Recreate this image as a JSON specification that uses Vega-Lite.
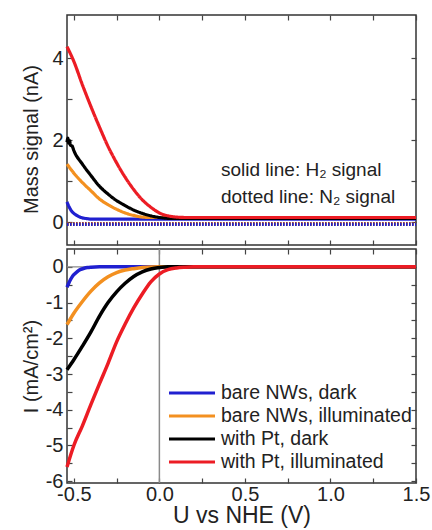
{
  "$schema": "https://vega.github.io/schema/vega-lite/v6.json",
  "padding": {"left": 20, "top": 13, "right": 5, "bottom": 5},
  "spacing": 0,
  "datasets": {
    "mass": [
      {"s":"bare NWs, dark","g":"H2","U":-0.54,"M":0.5},{"s":"bare NWs, dark","g":"H2","U":-0.53,"M":0.4},{"s":"bare NWs, dark","g":"H2","U":-0.52,"M":0.32},{"s":"bare NWs, dark","g":"H2","U":-0.51,"M":0.26},{"s":"bare NWs, dark","g":"H2","U":-0.5,"M":0.22},{"s":"bare NWs, dark","g":"H2","U":-0.49,"M":0.19},{"s":"bare NWs, dark","g":"H2","U":-0.47,"M":0.14},{"s":"bare NWs, dark","g":"H2","U":-0.45,"M":0.11},{"s":"bare NWs, dark","g":"H2","U":-0.42,"M":0.09},{"s":"bare NWs, dark","g":"H2","U":-0.4,"M":0.08},{"s":"bare NWs, dark","g":"H2","U":0,"M":0.08},{"s":"bare NWs, dark","g":"H2","U":0.5,"M":0.08},{"s":"bare NWs, dark","g":"H2","U":1.0,"M":0.08},{"s":"bare NWs, dark","g":"H2","U":1.5,"M":0.08},
      {"s":"bare NWs, illuminated","g":"H2","U":-0.54,"M":1.42},{"s":"bare NWs, illuminated","g":"H2","U":-0.5,"M":1.2},{"s":"bare NWs, illuminated","g":"H2","U":-0.45,"M":0.97},{"s":"bare NWs, illuminated","g":"H2","U":-0.4,"M":0.77},{"s":"bare NWs, illuminated","g":"H2","U":-0.35,"M":0.57},{"s":"bare NWs, illuminated","g":"H2","U":-0.3,"M":0.43},{"s":"bare NWs, illuminated","g":"H2","U":-0.25,"M":0.32},{"s":"bare NWs, illuminated","g":"H2","U":-0.2,"M":0.23},{"s":"bare NWs, illuminated","g":"H2","U":-0.15,"M":0.17},{"s":"bare NWs, illuminated","g":"H2","U":-0.1,"M":0.13},{"s":"bare NWs, illuminated","g":"H2","U":-0.05,"M":0.12},{"s":"bare NWs, illuminated","g":"H2","U":0,"M":0.12},{"s":"bare NWs, illuminated","g":"H2","U":0.5,"M":0.12},{"s":"bare NWs, illuminated","g":"H2","U":1.0,"M":0.12},{"s":"bare NWs, illuminated","g":"H2","U":1.5,"M":0.12},
      {"s":"with Pt, dark","g":"H2","U":-0.54,"M":1.95},{"s":"with Pt, dark","g":"H2","U":-0.535,"M":2.05},{"s":"with Pt, dark","g":"H2","U":-0.53,"M":1.93},{"s":"with Pt, dark","g":"H2","U":-0.525,"M":1.99},{"s":"with Pt, dark","g":"H2","U":-0.52,"M":1.88},{"s":"with Pt, dark","g":"H2","U":-0.51,"M":1.86},{"s":"with Pt, dark","g":"H2","U":-0.5,"M":1.75},{"s":"with Pt, dark","g":"H2","U":-0.45,"M":1.42},{"s":"with Pt, dark","g":"H2","U":-0.4,"M":1.14},{"s":"with Pt, dark","g":"H2","U":-0.35,"M":0.88},{"s":"with Pt, dark","g":"H2","U":-0.3,"M":0.69},{"s":"with Pt, dark","g":"H2","U":-0.25,"M":0.53},{"s":"with Pt, dark","g":"H2","U":-0.2,"M":0.41},{"s":"with Pt, dark","g":"H2","U":-0.15,"M":0.3},{"s":"with Pt, dark","g":"H2","U":-0.1,"M":0.22},{"s":"with Pt, dark","g":"H2","U":-0.05,"M":0.16},{"s":"with Pt, dark","g":"H2","U":0,"M":0.12},{"s":"with Pt, dark","g":"H2","U":0.05,"M":0.1},{"s":"with Pt, dark","g":"H2","U":0.5,"M":0.1},{"s":"with Pt, dark","g":"H2","U":1.0,"M":0.1},{"s":"with Pt, dark","g":"H2","U":1.5,"M":0.1},
      {"s":"with Pt, illuminated","g":"H2","U":-0.54,"M":4.28},{"s":"with Pt, illuminated","g":"H2","U":-0.5,"M":3.92},{"s":"with Pt, illuminated","g":"H2","U":-0.45,"M":3.35},{"s":"with Pt, illuminated","g":"H2","U":-0.4,"M":2.82},{"s":"with Pt, illuminated","g":"H2","U":-0.35,"M":2.32},{"s":"with Pt, illuminated","g":"H2","U":-0.3,"M":1.85},{"s":"with Pt, illuminated","g":"H2","U":-0.25,"M":1.45},{"s":"with Pt, illuminated","g":"H2","U":-0.2,"M":1.1},{"s":"with Pt, illuminated","g":"H2","U":-0.15,"M":0.8},{"s":"with Pt, illuminated","g":"H2","U":-0.1,"M":0.55},{"s":"with Pt, illuminated","g":"H2","U":-0.05,"M":0.37},{"s":"with Pt, illuminated","g":"H2","U":0,"M":0.23},{"s":"with Pt, illuminated","g":"H2","U":0.05,"M":0.16},{"s":"with Pt, illuminated","g":"H2","U":0.1,"M":0.13},{"s":"with Pt, illuminated","g":"H2","U":0.15,"M":0.12},{"s":"with Pt, illuminated","g":"H2","U":0.5,"M":0.12},{"s":"with Pt, illuminated","g":"H2","U":1.0,"M":0.12},{"s":"with Pt, illuminated","g":"H2","U":1.5,"M":0.12},
      {"s":"with Pt, illuminated","g":"N2","U":-0.54,"M":-0.03},{"s":"with Pt, illuminated","g":"N2","U":1.5,"M":-0.03},
      {"s":"with Pt, dark","g":"N2","U":-0.54,"M":-0.04},{"s":"with Pt, dark","g":"N2","U":1.5,"M":-0.04},
      {"s":"bare NWs, illuminated","g":"N2","U":-0.54,"M":-0.04},{"s":"bare NWs, illuminated","g":"N2","U":1.5,"M":-0.04},
      {"s":"bare NWs, dark","g":"N2","U":-0.54,"M":-0.05},{"s":"bare NWs, dark","g":"N2","U":1.5,"M":-0.05}
    ],
    "current": [
      {"s":"bare NWs, dark","U":-0.54,"I":-0.57},{"s":"bare NWs, dark","U":-0.53,"I":-0.46},{"s":"bare NWs, dark","U":-0.52,"I":-0.36},{"s":"bare NWs, dark","U":-0.51,"I":-0.28},{"s":"bare NWs, dark","U":-0.5,"I":-0.22},{"s":"bare NWs, dark","U":-0.48,"I":-0.13},{"s":"bare NWs, dark","U":-0.46,"I":-0.07},{"s":"bare NWs, dark","U":-0.44,"I":-0.04},{"s":"bare NWs, dark","U":-0.42,"I":-0.02},{"s":"bare NWs, dark","U":-0.4,"I":-0.01},{"s":"bare NWs, dark","U":-0.35,"I":0},{"s":"bare NWs, dark","U":0,"I":0},{"s":"bare NWs, dark","U":0.5,"I":0},{"s":"bare NWs, dark","U":1.0,"I":0},{"s":"bare NWs, dark","U":1.5,"I":0},
      {"s":"bare NWs, illuminated","U":-0.54,"I":-1.62},{"s":"bare NWs, illuminated","U":-0.5,"I":-1.3},{"s":"bare NWs, illuminated","U":-0.45,"I":-0.97},{"s":"bare NWs, illuminated","U":-0.4,"I":-0.68},{"s":"bare NWs, illuminated","U":-0.35,"I":-0.45},{"s":"bare NWs, illuminated","U":-0.3,"I":-0.28},{"s":"bare NWs, illuminated","U":-0.25,"I":-0.16},{"s":"bare NWs, illuminated","U":-0.2,"I":-0.09},{"s":"bare NWs, illuminated","U":-0.15,"I":-0.05},{"s":"bare NWs, illuminated","U":-0.1,"I":-0.02},{"s":"bare NWs, illuminated","U":0,"I":0},{"s":"bare NWs, illuminated","U":0.5,"I":0},{"s":"bare NWs, illuminated","U":1.0,"I":0},{"s":"bare NWs, illuminated","U":1.5,"I":0},
      {"s":"with Pt, dark","U":-0.54,"I":-2.88},{"s":"with Pt, dark","U":-0.5,"I":-2.6},{"s":"with Pt, dark","U":-0.45,"I":-2.22},{"s":"with Pt, dark","U":-0.4,"I":-1.82},{"s":"with Pt, dark","U":-0.35,"I":-1.38},{"s":"with Pt, dark","U":-0.3,"I":-1.0},{"s":"with Pt, dark","U":-0.25,"I":-0.7},{"s":"with Pt, dark","U":-0.2,"I":-0.46},{"s":"with Pt, dark","U":-0.15,"I":-0.27},{"s":"with Pt, dark","U":-0.1,"I":-0.14},{"s":"with Pt, dark","U":-0.05,"I":-0.06},{"s":"with Pt, dark","U":0,"I":-0.02},{"s":"with Pt, dark","U":0.05,"I":0},{"s":"with Pt, dark","U":0.5,"I":0},{"s":"with Pt, dark","U":1.0,"I":0},{"s":"with Pt, dark","U":1.5,"I":0},
      {"s":"with Pt, illuminated","U":-0.54,"I":-5.6},{"s":"with Pt, illuminated","U":-0.5,"I":-5.0},{"s":"with Pt, illuminated","U":-0.45,"I":-4.45},{"s":"with Pt, illuminated","U":-0.4,"I":-3.85},{"s":"with Pt, illuminated","U":-0.35,"I":-3.27},{"s":"with Pt, illuminated","U":-0.3,"I":-2.7},{"s":"with Pt, illuminated","U":-0.25,"I":-2.1},{"s":"with Pt, illuminated","U":-0.2,"I":-1.6},{"s":"with Pt, illuminated","U":-0.15,"I":-1.15},{"s":"with Pt, illuminated","U":-0.1,"I":-0.76},{"s":"with Pt, illuminated","U":-0.05,"I":-0.42},{"s":"with Pt, illuminated","U":0,"I":-0.2},{"s":"with Pt, illuminated","U":0.05,"I":-0.08},{"s":"with Pt, illuminated","U":0.1,"I":-0.03},{"s":"with Pt, illuminated","U":0.15,"I":-0.01},{"s":"with Pt, illuminated","U":0.2,"I":0},{"s":"with Pt, illuminated","U":0.5,"I":0},{"s":"with Pt, illuminated","U":1.0,"I":0},{"s":"with Pt, illuminated","U":1.5,"I":0}
    ],
    "notes": [
      {"U":0.36,"M":1.28,"label":"solid line: H₂ signal"},
      {"U":0.36,"M":0.62,"label":"dotted line: N₂ signal"}
    ],
    "zero": [{"U":0,"I":0}]
  },
  "vconcat": [
    {
      "width": 349,
      "height": 230,
      "layer": [
        {
          "data": {"name": "mass"},
          "mark": {"type": "line", "strokeWidth": 3.2, "interpolate": "monotone"},
          "encoding": {
            "x": {"field": "U", "type": "quantitative",
                  "scale": {"domain": [-0.54, 1.5], "nice": false, "zero": false},
                  "axis": {"orient": "bottom", "values": [-0.5,-0.25,0,0.25,0.5,0.75,1,1.25,1.5], "labels": false, "title": null}},
            "y": {"field": "M", "type": "quantitative",
                  "scale": {"domain": [-0.55, 5.05], "nice": false, "zero": false},
                  "axis": {"orient": "left", "values": [0,1,2,3,4], "labelExpr": "datum.value % 2 == 0 ? format(datum.value,'d') : ''", "title": "Mass signal (nA)", "titleX": -36, "titleBaseline": "middle", "titleY": 124}},
            "color": {"field": "s", "type": "nominal",
                      "scale": {"domain": ["bare NWs, dark","bare NWs, illuminated","with Pt, dark","with Pt, illuminated"], "range": ["#2020d0","#f39020","#000000","#ec1c24"]},
                      "legend": null},
            "strokeDash": {"field": "g", "type": "nominal",
                           "scale": {"domain": ["H2","N2"], "range": [[1,0],[1.5,1.5]]}, "legend": null}
          }
        },
        {
          "data": {"name": "notes"},
          "mark": {"type": "text", "align": "left", "baseline": "middle", "fontSize": 19, "font": "Liberation Sans", "color": "#222"},
          "encoding": {
            "x": {"field": "U", "type": "quantitative",
                  "scale": {"domain": [-0.54, 1.5], "nice": false, "zero": false},
                  "axis": {"orient": "top", "values": [-0.5,-0.25,0,0.25,0.5,0.75,1,1.25,1.5], "labels": false, "title": null}},
            "y": {"field": "M", "type": "quantitative",
                  "scale": {"domain": [-0.55, 5.05], "nice": false, "zero": false},
                  "axis": {"orient": "right", "values": [0,1,2,3,4], "labels": false, "title": null}},
            "text": {"field": "label"}
          }
        }
      ],
      "resolve": {"axis": {"x": "independent", "y": "independent"}}
    },
    {
      "width": 349,
      "height": 234,
      "layer": [
        {
          "data": {"name": "zero"},
          "mark": {"type": "rule", "color": "#8a8a8a", "strokeWidth": 1.5},
          "encoding": {
            "x": {"field": "U", "type": "quantitative",
                  "scale": {"domain": [-0.54, 1.5], "nice": false, "zero": false},
                  "axis": {"orient": "top", "values": [-0.5,-0.25,0,0.25,0.5,0.75,1,1.25,1.5], "labels": false, "title": null}}
          }
        },
        {
          "data": {"name": "zero"},
          "mark": {"type": "rule", "color": "#8a8a8a", "strokeWidth": 1.2},
          "encoding": {
            "y": {"field": "I", "type": "quantitative",
                  "scale": {"domain": [-6.05, 0.5], "nice": false, "zero": false},
                  "axis": {"orient": "right", "values": [-6,-5.5,-5,-4.5,-4,-3.5,-3,-2.5,-2,-1.5,-1,-0.5,0], "labels": false, "title": null}}
          }
        },
        {
          "data": {"name": "current"},
          "mark": {"type": "line", "strokeWidth": 3.5, "interpolate": "monotone"},
          "encoding": {
            "x": {"field": "U", "type": "quantitative",
                  "scale": {"domain": [-0.54, 1.5], "nice": false, "zero": false},
                  "axis": {"orient": "bottom", "values": [-0.5,-0.25,0,0.25,0.5,0.75,1,1.25,1.5],
                           "labelExpr": "(datum.value*2) % 1 == 0 ? replace(format(datum.value,'.1f'),'−','-') : ''",
                           "labelPadding": 6,
                           "title": "U vs NHE (V)", "titleFontSize": 23, "titlePadding": 0}},
            "y": {"field": "I", "type": "quantitative",
                  "scale": {"domain": [-6.05, 0.5], "nice": false, "zero": false},
                  "axis": {"orient": "left", "values": [-6,-5.5,-5,-4.5,-4,-3.5,-3,-2.5,-2,-1.5,-1,-0.5,0],
                           "labelExpr": "datum.value % 1 == 0 ? replace(format(datum.value,'d'),'−','-') : ''",
                           "title": "I (mA/cm²)", "titleX": -36, "titleBaseline": "middle"}},
            "color": {"field": "s", "type": "nominal",
                      "scale": {"domain": ["bare NWs, dark","bare NWs, illuminated","with Pt, dark","with Pt, illuminated"], "range": ["#2020d0","#f39020","#000000","#ec1c24"]},
                      "legend": {"orient": "none", "legendX": 112, "legendY": 131, "title": null, "padding": 0,
                                 "symbolType": "M-2,0H2", "symbolSize": 529, "symbolStrokeWidth": 3,
                                 "labelFontSize": 19.5, "labelFont": "Liberation Sans", "labelColor": "#222",
                                 "labelOffset": 16, "rowPadding": 0, "labelLimit": 300}}
          }
        }
      ],
      "resolve": {"axis": {"x": "independent", "y": "independent"}}
    }
  ],
  "resolve": {"legend": {"color": "independent"}},
  "config": {
    "font": "Liberation Sans",
    "view": {"stroke": "#333", "strokeWidth": 1.5},
    "axis": {
      "grid": false, "domain": false,
      "tickSize": -5, "tickColor": "#444", "tickWidth": 1.2,
      "labelFontSize": 20, "labelColor": "#222", "labelPadding": 9, "labelFlush": false, "labelOverlap": false,
      "titleFontSize": 20, "titleFontWeight": "normal", "titleColor": "#222", "titlePadding": 5
    }
  }
}
